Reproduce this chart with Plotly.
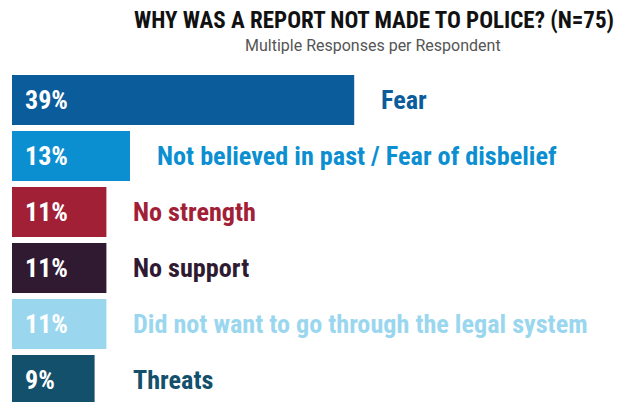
import plotly.graph_objects as go

# Data
categories = ["Fear", "Not believed in past / Fear of disbelief", "No strength",
              "No support", "Did not want to go through the legal system", "Threats"]
counts = [29, 10, 8, 8, 8, 7]
n_total = 75
pct_labels = ["39%", "13%", "11%", "11%", "11%", "9%"]
colors = ["#0a5c9b", "#0c8fd1", "#a22036", "#2f1a31", "#9ad7ef", "#13506c"]

pcts = [c / n_total * 100 for c in counts]
ypos = list(range(len(categories)))

COND = "Roboto Condensed, Open Sans Condensed, DejaVu Sans Condensed, sans-serif"

fig = go.Figure()
fig.add_trace(go.Bar(
    x=pcts, y=ypos, orientation="h",
    marker=dict(color=colors, line=dict(width=0)),
    width=50 / 56, hoverinfo="skip",
))

annotations = []
min_label_anchor = pcts[2]
for i, (p, lab, cat, col) in enumerate(zip(pcts, pct_labels, categories, colors)):
    annotations.append(dict(
        x=0, y=i, xref="x", yref="y", text="<b>%s</b>" % lab,
        xanchor="left", yanchor="middle", xshift=11, showarrow=False,
        font=dict(family=COND, size=26, color="white"),
    ))
    annotations.append(dict(
        x=max(p, min_label_anchor), y=i, xref="x", yref="y", text="<b>%s</b>" % cat,
        xanchor="left", yanchor="middle", xshift=25, showarrow=False,
        font=dict(family=COND, size=26.2, color=col),
    ))

annotations.append(dict(
    x=(373 - 12) / 605, y=1 + (72 - 46) / 330, xref="paper", yref="paper",
    text="Multiple Responses per Respondent", showarrow=False,
    xanchor="center", yanchor="middle",
    font=dict(family="Roboto, sans-serif", size=16, color="#555555"),
))

fig.update_layout(
    width=617, height=402,
    margin=dict(l=12, r=0, t=72, b=0),
    paper_bgcolor="white", plot_bgcolor="white",
    showlegend=False,
    xaxis=dict(range=[0, 605 / 8.85], visible=False, fixedrange=True),
    yaxis=dict(range=[5.393, -0.5], visible=False, fixedrange=True),
    title=dict(
        text="<b>WHY WAS A REPORT NOT MADE TO POLICE? (N=75)</b>",
        x=614 / 617, xanchor="right", y=1 - 20 / 402, yanchor="middle",
        font=dict(family=COND, size=23, color="#111111"),
    ),
    annotations=annotations,
)

fig.write_html("out.html", config={"displayModeBar": False},
               post_script="document.body.style.margin='0';")
